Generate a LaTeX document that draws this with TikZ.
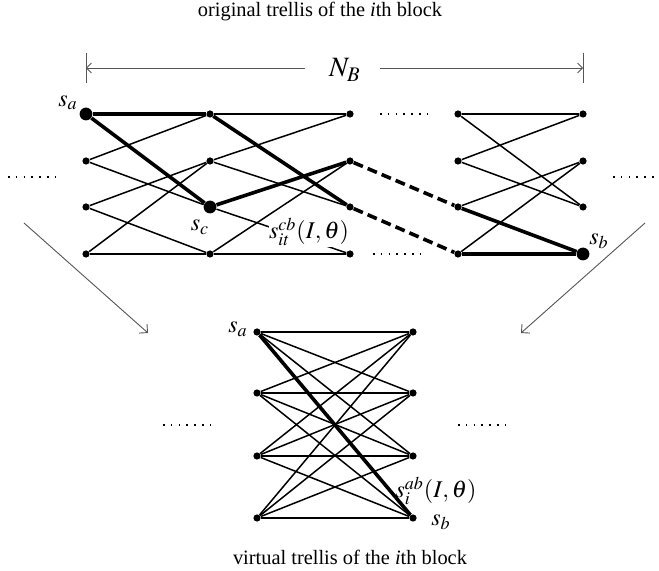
\documentclass[tikz,border=0pt]{standalone}
\usepackage{mathptmx}
\usepackage[no-math]{fontspec}
\setmainfont{Liberation Serif}
\usetikzlibrary{arrows.meta}
\definecolor{guidegray}{RGB}{85,85,85}
\tikzset{
  state/.style={circle,fill=black,inner sep=0pt,minimum size=3.6pt},
  bigstate/.style={circle,fill=black,inner sep=0pt,minimum size=6.4pt},
  trel/.style={line width=0.75pt},
  best/.style={line width=1.8pt},
  jump/.style={line width=1.8pt,dash pattern=on 5pt off 2.6pt},
  dotline/.style={line width=0.8pt,dash pattern=on 0.8pt off 3.1pt},
  guide/.style={guidegray,line width=0.45pt,-{Straight Barb[length=2.4pt,width=5pt]}},
  tick/.style={guidegray,line width=0.45pt},
  mlabel/.style={font=\fontsize{12}{14}\selectfont,inner sep=1pt},
}

\begin{document}
\begin{tikzpicture}[x=0.5pt,y=-0.5pt,every node/.style={font=\fontsize{10.2}{12}\selectfont}]
  \useasboundingbox(0,0)rectangle(659,571);
  % titles
  \node[anchor=base](top) at(320,16.5){original trellis of the \textit{i}th block};
  \node[anchor=base](bottom) at(350,565){virtual trellis of the \textit{i}th block};
  % N_B dimension line
  \node[anchor=base,font=\fontsize{14}{16}\selectfont](nb) at(345,77){$N_B$};
  \coordinate(lt) at(86,68);
  \coordinate(rt) at(583,68);
  \coordinate(nbl) at(305,68);
  \coordinate(nbr) at(380,68);
  \draw[guide](nbl)--(lt);
  \draw[guide](nbr)--(rt);
  \draw[tick](lt)++(0,-15)--++(0,30);
  \draw[tick](rt)++(0,-15)--++(0,30);
  % states of the original trellis
  \foreach \c/\xx in {a/86,b/210,c/350,d/458,e/583}
    \foreach \r/\yy in {1/114,2/161,3/207,4/254}
      \node[state](\c\r) at(\xx,\yy){};
  \node[bigstate](a1) at(86,114){};
  \node[bigstate](b3) at(210,207){};
  \node[bigstate](e4) at(583,254){};
  % branches
  \draw[trel](a2)--(b1);
  \draw[trel](a2)--(b3);
  \draw[trel](a3)--(b2);
  \draw[trel](a3)--(b4);
  \draw[trel](a4)--(b2);
  \draw[trel](a4)--(b4);
  \draw[trel](b1)--(c1);
  \draw[trel](b2)--(c1);
  \draw[trel](b2)--(c3);
  \draw[trel](b3)--(c4);
  \draw[trel](b4)--(c2);
  \draw[trel](b4)--(c4);
  \draw[trel](d1)--(e1);
  \draw[trel](d1)--(e3);
  \draw[trel](d2)--(e1);
  \draw[trel](d2)--(e3);
  \draw[trel](d3)--(e2);
  \draw[trel](d4)--(e2);
  % surviving path
  \draw[best](a1)--(b1);
  \draw[best](a1)--(b3);
  \draw[best](b1)--(c3);
  \draw[best](b3)--(c2);
  \draw[jump](c2)--(d3);
  \draw[jump](c3)--(d4);
  \draw[best](d3)--(e4);
  \draw[best](d4)--(e4);
  % labels
  \node[mlabel](sa) at(68,103){$s_a$};
  \node[mlabel](sc) at(200,227){$s_c$};
  \node[mlabel,fill=white,inner sep=0.3pt,minimum height=15pt](scb) at(309,232){$s_{it}^{cb}(I,\theta)$};
  \node[mlabel](sb) at(599,241){$s_b$};
  % omitted sections
  \draw[dotline](8,177)--(55,177);
  \draw[dotline](613,177)--(659,177);
  \draw[dotline](380,114)--(428,114);
  \draw[dotline](373,254)--(421,254);
  % mapping arrows
  \coordinate(la) at(24,223);
  \coordinate(lb) at(148,333);
  \coordinate(ra) at(645,223);
  \coordinate(rb) at(521,333);
  \draw[guide,-{Straight Barb[length=3pt,width=6pt]}](la)--(lb);
  \draw[guide,-{Straight Barb[length=3pt,width=6pt]}](ra)--(rb);
  % virtual trellis
  \foreach \r/\yy in {1/332,2/393,3/456,4/518}{
    \node[state](v\r) at(257,\yy){};
    \node[state](w\r) at(413,\yy){};
  }
  \foreach \i in {1,...,4}
    \foreach \j in {1,...,4}
      \draw[trel](v\i)--(w\j);
  \draw[best](v1)--(w4);
  \node[mlabel](va) at(238,329){$s_a$};
  \node[mlabel](vab) at(436,491){$s_i^{ab}(I,\theta)$};
  \node[mlabel](vb) at(441,522){$s_b$};
  \draw[dotline](163,425)--(210,425);
  \draw[dotline](458,425)--(507,425);
\end{tikzpicture}
\end{document}
